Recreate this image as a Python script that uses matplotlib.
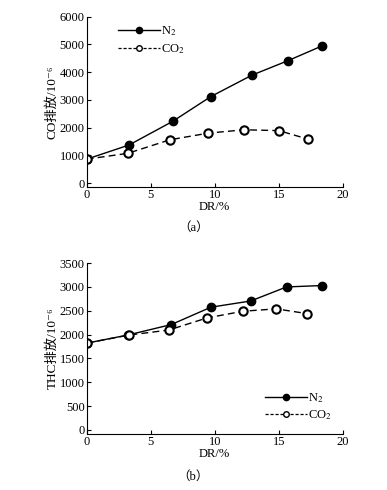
import matplotlib.pyplot as plt
from matplotlib.lines import Line2D

plt.rcParams['font.family'] = ['Liberation Serif', 'Noto Sans CJK SC', 'DejaVu Sans']
plt.rcParams['font.size'] = 9
plt.rcParams['mathtext.fontset'] = 'stix'

# CO emissions (a)
co_dr_n2 = [0, 3.3, 6.7, 9.7, 12.9, 15.7, 18.4]
co_n2 = [860, 1370, 2220, 3120, 3890, 4410, 4950]
co_dr_co2 = [0, 3.2, 6.5, 9.5, 12.3, 15.0, 17.3]
co_co2 = [860, 1070, 1560, 1800, 1920, 1890, 1580]

# THC emissions (b)
thc_dr_n2 = [0, 3.2, 6.6, 9.7, 12.8, 15.6, 18.4]
thc_n2 = [1820, 1990, 2210, 2575, 2705, 3000, 3030]
thc_dr_co2 = [0, 3.3, 6.4, 9.4, 12.2, 14.8, 17.2]
thc_co2 = [1820, 1990, 2095, 2350, 2490, 2540, 2440]

fig = plt.figure(figsize=(3.87, 4.90), dpi=100)
ax1 = fig.add_axes([0.224, 0.618, 0.662, 0.348])
ax2 = fig.add_axes([0.224, 0.115, 0.662, 0.348])

leg_handles = [
    Line2D([], [], color='black', lw=1.0, marker='o', ms=4.5, mfc='black', mec='black'),
    Line2D([], [], color='black', lw=0.9, ls=(0, (2.5, 1.5)), marker='o', ms=4,
           mfc='white', mec='black', mew=1.0),
]


def draw(ax, xa, ya, xb, yb):
    ax.plot(xa, ya, '-', color='black', lw=1.0, marker='o', ms=6,
            mfc='black', mec='black')
    ax.plot(xb, yb, color='black', lw=1.0, ls=(0, (5, 3)), marker='o', ms=6,
            mfc='white', mec='black', mew=1.5)
    for s in ['top', 'right']:
        ax.spines[s].set_visible(False)
    for s in ['left', 'bottom']:
        ax.spines[s].set_linewidth(0.8)
    ax.tick_params(direction='in', length=3, width=0.8, pad=1.5, labelsize=9)
    ax.set_xlim(0, 20)
    ax.set_xticks([0, 5, 10, 15, 20])
    ax.set_xlabel('DR/%', labelpad=0)


draw(ax1, co_dr_n2, co_n2, co_dr_co2, co_co2)
ax1.set_ylim(-150, 6000)
ax1.set_yticks(range(0, 6001, 1000))
ax1.set_ylabel('CO排放/10⁻⁶', labelpad=1, fontsize=9.5)
ax1.legend(leg_handles, ['N$_2$', 'CO$_2$'], loc='upper left',
           bbox_to_anchor=(0.08, 1.02), frameon=False,
           handlelength=3.3, handletextpad=0.1, labelspacing=0.3, fontsize=9)

draw(ax2, thc_dr_n2, thc_n2, thc_dr_co2, thc_co2)
ax2.set_ylim(-80, 3500)
ax2.set_yticks(range(0, 3501, 500))
ax2.set_ylabel('THC排放/10⁻⁶', labelpad=1, fontsize=9.5)
ax2.legend(leg_handles, ['N$_2$', 'CO$_2$'], loc='lower right',
           bbox_to_anchor=(1.0, 0.0), frameon=False,
           handlelength=3.3, handletextpad=0.1, labelspacing=0.3, fontsize=9)

fig.text(0.499, 0.535, '（a）', ha='center', va='center', fontsize=9)
fig.text(0.499, 0.027, '（b）', ha='center', va='center', fontsize=9)

fig.savefig('out.png', dpi=100)
